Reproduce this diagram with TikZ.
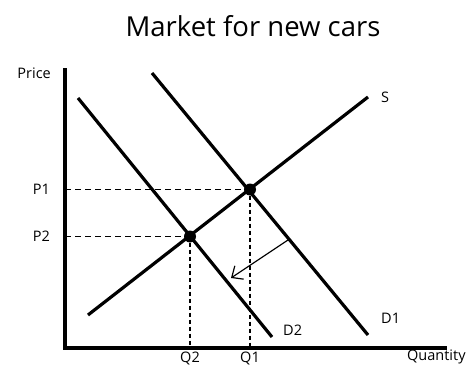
\documentclass[tikz,border=0pt]{standalone}
\usepackage{fontspec}
\setmainfont{Open Sans}
\usetikzlibrary{arrows.meta,positioning}

\begin{document}
\begin{tikzpicture}[x=1pt, y=-1pt, font=\fontsize{14.5}{17}\selectfont, inner sep=1pt]
            \useasboundingbox (0,0) rectangle (475,367);

            % Titulo
            \node[font=\fontsize{27.5}{31}\selectfont] (title) at (253,26) {Market for new cars};

            % Ejes
            \coordinate (origin) at (65,348);
            \coordinate (ytop) at (65,68);
            \coordinate (xend) at (447,348);
            \draw[line width=3.2pt] (ytop) -- (origin) -- (xend);
            \node[left=13pt of ytop, anchor=north east, yshift=1pt] (price) {Price};
            \node[anchor=west] (quantity) at (406,357) {Quantity};

            % Curvas
            \coordinate (sstart) at (88,315);
            \coordinate (send) at (368,97);
            \coordinate (donestart) at (152,73);
            \coordinate (doneend) at (368,335);
            \coordinate (dtwostart) at (78,98);
            \coordinate (dtwoend) at (272,337);
            \draw[line width=3.2pt] (sstart) -- (send);
            \draw[line width=3.2pt] (donestart) -- (doneend);
            \draw[line width=3.2pt] (dtwostart) -- (dtwoend);
            \node[right=12pt of send] (slabel) {S};
            \node[right=12pt of doneend, yshift=17pt] (donelabel) {D1};
            \node[right=10pt of dtwoend, yshift=7pt] (dtwolabel) {D2};

            % Equilibrios
            \node[circle, fill, minimum size=12pt, inner sep=0pt] (eqone) at (250,189.5) {};
            \node[circle, fill, minimum size=12pt, inner sep=0pt] (eqtwo) at (190,236.5) {};
            \coordinate (pone) at (origin |- eqone);
            \coordinate (ptwo) at (origin |- eqtwo);
            \coordinate (qone) at (eqone |- origin);
            \coordinate (qtwo) at (eqtwo |- origin);
            \draw[dash pattern=on 6pt off 4pt, line width=1.5pt] (pone) -- (eqone);
            \draw[dash pattern=on 6pt off 4pt, line width=1.5pt] (ptwo) -- (eqtwo);
            \draw[dash pattern=on 4pt off 3pt, line width=1.5pt] (eqone) -- (qone);
            \draw[dash pattern=on 4pt off 3pt, line width=1.5pt] (eqtwo) -- (qtwo);
            \node[left=14pt of pone] (ponelabel) {P1};
            \node[left=14pt of ptwo] (ptwolabel) {P2};
            \node[below=3pt of qone] (qonelabel) {Q1};
            \node[below=3pt of qtwo] (qtwolabel) {Q2};

            % Desplazamiento
            \coordinate (shiftfrom) at (288,240);
            \coordinate (shiftto) at (231,278);
            \draw[-{Straight Barb[length=9pt, width=16pt]}, line width=1.2pt] (shiftfrom) -- (shiftto);
        \end{tikzpicture}
\end{document}
